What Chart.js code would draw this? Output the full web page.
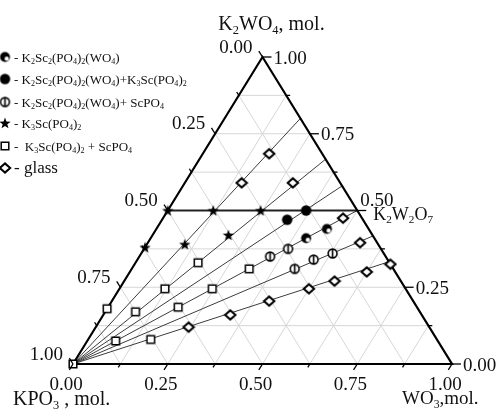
<!DOCTYPE html>
<html>
<head>
<meta charset="utf-8">
<script src="https://cdn.jsdelivr.net/npm/chart.js@4.4.1/dist/chart.umd.min.js"></script>
<style>
  html, body { margin: 0; padding: 0; background: #fff; }
  canvas { display: block; }
</style>
</head>
<body>
<canvas id="chart" width="499" height="409"></canvas>
<script>
(function () {
  "use strict";

  const SERIF = '"Liberation Serif", "Times New Roman", serif';

  // ----- Data: mole fractions (WO3, K2WO4; KPO3 = rest) -----
  const k2sc2WO3 = [0.41, 0.45];
  const k2sc2K2WO4 = [0.41, 0.44];

  const k2sc2K3scWO3 = [0.33, 0.365];
  const k2sc2K3scK2WO4 = [0.47, 0.50];

  const k2sc2ScpoWO3 = [0.345, 0.38, 0.43, 0.465, 0.505];
  const k2sc2ScpoK2WO4 = [0.35, 0.375, 0.31, 0.34, 0.36];

  const k3scWO3 = [0, 0, 0.12, 0.10, 0.245, 0.20];
  const k3scK2WO4 = [0.50, 0.38, 0.50, 0.39, 0.50, 0.42];

  const k3scScpoWO3 = [0, 0, 0.08, 0.12, 0.165, 0.075, 0.185, 0.245, 0.31, 0.165];
  const k3scScpoK2WO4 = [0, 0.18, 0.17, 0.245, 0.33, 0.075, 0.185, 0.245, 0.31, 0.08];

  const glassWO3 = [0.15, 0.175, 0.285, 0.475, 0.56, 0.675, 0.625, 0.555, 0.50, 0.415, 0.335, 0.245];
  const glassK2WO4 = [0.59, 0.685, 0.59, 0.475, 0.395, 0.325, 0.30, 0.27, 0.245, 0.205, 0.16, 0.12];

  // sections from KPO3 corner: K2WO4 share where they meet the K2WO4-WO3 side
  const sectionK2WO4 = [0.8, 0.667, 0.58, 0.5, 0.417, 0.333];
  // join at K2WO4 = 0.5, ending at K2W2O7
  const joinK2WO4 = 0.5;

  const tickValues = [0, 0.25, 0.5, 0.75, 1];
  const tickLabels = ["0.00", "0.25", "0.50", "0.75", "1.00"];
  const minorValues = [0.125, 0.375, 0.625, 0.875];
  const gridValues = [0.125, 0.25, 0.375, 0.5, 0.625, 0.75, 0.875];

  const legendLabels = [
    "- K_2Sc_2(PO_4)_2(WO_4)",
    "- K_2Sc_2(PO_4)_2(WO_4)+K_3Sc(PO_4)_2",
    "- K_2Sc_2(PO_4)_2(WO_4)+ ScPO_4",
    "- K_3Sc(PO_4)_2",
    "-  K_3Sc(PO_4)_2 + ScPO_4",
    "- glass",
  ];
  const legendRowY = [57, 79, 102, 123, 146, 168];

  // ----- helpers -----
  // ternary (WO3 = a, K2WO4 = c) -> cartesian used by the linear scales
  function cart(a, c) { return { x: a + c / 2, y: c }; }
  function pts(wo3, k2wo4) { return wo3.map((a, i) => cart(a, k2wo4[i])); }

  function marker(size, draw) {
    const cv = document.createElement("canvas");
    cv.width = cv.height = size;
    const g = cv.getContext("2d");
    draw(g, size / 2);
    return cv;
  }

  const mkHalf = marker(13, (g, m) => {
    g.fillStyle = "#000";
    g.beginPath(); g.arc(m, m, 5, 0, Math.PI * 2); g.fill();
    g.fillStyle = "#fff";
    g.beginPath(); g.arc(m + 1.7, m + 1.7, 2.1, 0, Math.PI * 2); g.fill();
  });
  const mkFilled = marker(13, (g, m) => {
    g.fillStyle = "#000";
    g.beginPath(); g.arc(m, m, 5.2, 0, Math.PI * 2); g.fill();
  });
  const mkPhi = marker(13, (g, m) => {
    g.fillStyle = "#fff"; g.strokeStyle = "#000"; g.lineWidth = 1.6;
    g.beginPath(); g.arc(m, m, 4.4, 0, Math.PI * 2); g.fill(); g.stroke();
    g.beginPath(); g.moveTo(m, m - 4.4); g.lineTo(m, m + 4.4); g.stroke();
  });
  const mkStar = marker(14, (g, m) => {
    g.fillStyle = "#000";
    g.beginPath();
    for (let i = 0; i < 10; i++) {
      const r = i % 2 ? 2.4 : 6;
      const ang = -Math.PI / 2 + i * Math.PI / 5;
      const x = m + r * Math.cos(ang), y = m + 0.5 + r * Math.sin(ang);
      if (i === 0) g.moveTo(x, y); else g.lineTo(x, y);
    }
    g.closePath(); g.fill();
  });
  const mkSquare = marker(12, (g, m) => {
    g.fillStyle = "#fff"; g.strokeStyle = "#000"; g.lineWidth = 1.5;
    g.beginPath(); g.rect(m - 3.8, m - 3.8, 7.6, 7.6); g.fill(); g.stroke();
  });
  const mkGlass = marker(14, (g, m) => {
    g.fillStyle = "#fff"; g.strokeStyle = "#000"; g.lineWidth = 2;
    g.beginPath();
    g.moveTo(m - 5.2, m); g.lineTo(m, m - 4.6); g.lineTo(m + 5.2, m); g.lineTo(m, m + 4.6);
    g.closePath(); g.fill(); g.stroke();
  });
  const legendMarkers = [mkHalf, mkFilled, mkPhi, mkStar, mkSquare, mkGlass];

  // chemical formula with "_n" subscripts
  function drawChem(ctx, text, x, y, size, align) {
    const parts = [];
    let i = 0;
    while (i < text.length) {
      if (text[i] === "_") {
        let j = i + 1;
        while (j < text.length && /\d/.test(text[j])) j++;
        parts.push({ t: text.slice(i + 1, j), sub: true });
        i = j;
      } else {
        let j = i;
        while (j < text.length && text[j] !== "_") j++;
        parts.push({ t: text.slice(i, j), sub: false });
        i = j;
      }
    }
    const subSize = size * 0.62;
    let w = 0;
    parts.forEach((p) => {
      ctx.font = (p.sub ? subSize : size) + "px " + SERIF;
      p.w = ctx.measureText(p.t).width;
      w += p.w;
    });
    let cx = align === "right" ? x - w : align === "center" ? x - w / 2 : x;
    ctx.textAlign = "left";
    ctx.textBaseline = "alphabetic";
    parts.forEach((p) => {
      ctx.font = (p.sub ? subSize : size) + "px " + SERIF;
      ctx.fillText(p.t, cx, y + (p.sub ? size * 0.22 : 0));
      cx += p.w;
    });
  }

  // ----- frame plugin: grid, ticks, labels, legend -----
  const ternaryFrame = {
    id: "ternaryFrame",
    beforeDatasetsDraw(chart) {
      const { ctx } = chart;
      const xs = chart.scales.x, ys = chart.scales.y;
      const P = (a, c) => [xs.getPixelForValue(a + c / 2), ys.getPixelForValue(c)];
      ctx.save();
      ctx.strokeStyle = "#d6d6d6";
      ctx.lineWidth = 1;
      const seg = (p, q) => { ctx.beginPath(); ctx.moveTo(p[0], p[1]); ctx.lineTo(q[0], q[1]); ctx.stroke(); };
      gridValues.forEach((s) => {
        seg(P(0, s), P(1 - s, s));
        seg(P(s, 0), P(s, 1 - s));
        seg(P(1 - s, 0), P(0, 1 - s));
      });
      ctx.restore();
    },
    afterDatasetsDraw(chart) {
      const { ctx } = chart;
      const xs = chart.scales.x, ys = chart.scales.y;
      const P = (a, c) => [xs.getPixelForValue(a + c / 2), ys.getPixelForValue(c)];
      const dirOf = (dX, dY) => {
        const px = xs.getPixelForValue(dX) - xs.getPixelForValue(0);
        const py = ys.getPixelForValue(dY) - ys.getPixelForValue(0);
        const l = Math.hypot(px, py);
        return [px / l, py / l];
      };
      const dBottom = dirOf(-0.5, -1);
      const dLeft = dirOf(-0.5, 1);
      const dRight = [1, 0];

      ctx.save();
      ctx.strokeStyle = "#000";
      ctx.lineWidth = 1.3;
      const tick = (p, d, len) => {
        ctx.beginPath(); ctx.moveTo(p[0], p[1]);
        ctx.lineTo(p[0] + d[0] * len, p[1] + d[1] * len); ctx.stroke();
      };
      tickValues.forEach((v) => {
        tick(P(v, 0), dBottom, 7);
        tick(P(1 - v, v), dRight, 9);
        tick(P(0, 1 - v), dLeft, 7);
      });
      minorValues.forEach((v) => {
        tick(P(v, 0), dBottom, 4);
        tick(P(1 - v, v), dRight, 4);
        tick(P(0, 1 - v), dLeft, 4);
      });

      ctx.fillStyle = "#111";
      ctx.font = "19px " + SERIF;
      ctx.textBaseline = "alphabetic";
      tickValues.forEach((v, i) => {
        const lab = tickLabels[i];
        // WO3 along the bottom
        const b = P(v, 0);
        ctx.textAlign = "center";
        ctx.fillText(lab, b[0] - 7, b[1] + 26);
        // K2WO4 on the right side
        const r = P(1 - v, v);
        ctx.textAlign = "left";
        if (v === 0.5) ctx.fillText(lab, r[0] + 3, r[1] - 5);
        else ctx.fillText(lab, r[0] + 11, r[1] + 6.5);
        // KPO3 on the left side
        const l = P(0, 1 - v);
        ctx.textAlign = "right";
        ctx.fillText(lab, l[0] - 10, l[1] - 4.5);
      });

      // axis titles and compound label
      ctx.fillStyle = "#111";
      const top = P(0, 1);
      drawChem(ctx, "K_2WO_4, mol.", top[0] + 9, top[1] - 27, 20, "center");
      const bl = P(0, 0);
      drawChem(ctx, "KPO_3 , mol.", bl[0] - 60, bl[1] + 41, 20, "left");
      const br = P(1, 0);
      drawChem(ctx, "WO_3,mol.", br[0] - 50, br[1] + 40, 19, "left");
      const k2w = P(1 - joinK2WO4, joinK2WO4);
      drawChem(ctx, "K_2W_2O_7", k2w[0] + 16, k2w[1] + 9, 18, "left");

      // legend
      legendLabels.forEach((t, i) => {
        const y = legendRowY[i];
        const mk = legendMarkers[i];
        ctx.drawImage(mk, 5 - mk.width / 2, y - mk.height / 2);
        drawChem(ctx, t, 14, y + 4.5, i === 5 ? 17 : 13, "left");
      });
      ctx.restore();
    },
  };

  // ----- datasets -----
  const datasets = [];
  sectionK2WO4.forEach((r) => {
    datasets.push({
      data: [cart(0, 0), cart(1 - r, r)],
      showLine: true, borderColor: "#3c3c3c", borderWidth: 1,
      pointRadius: 0, order: 6, clip: false,
    });
  });
  datasets.push({
    data: [cart(0, joinK2WO4), cart(1 - joinK2WO4, joinK2WO4)],
    showLine: true, borderColor: "#222", borderWidth: 2,
    pointRadius: 0, order: 5, clip: false,
  });
  datasets.push({
    data: [cart(0, 0), cart(1, 0), cart(0, 1), cart(0, 0)],
    showLine: true, borderColor: "#000", borderWidth: 2.2,
    pointRadius: 0, order: 4, clip: false,
  });
  const series = [
    [k2sc2WO3, k2sc2K2WO4, mkHalf],
    [k2sc2K3scWO3, k2sc2K3scK2WO4, mkFilled],
    [k2sc2ScpoWO3, k2sc2ScpoK2WO4, mkPhi],
    [k3scWO3, k3scK2WO4, mkStar],
    [k3scScpoWO3, k3scScpoK2WO4, mkSquare],
    [glassWO3, glassK2WO4, mkGlass],
  ];
  series.forEach(([a, c, mk]) => {
    datasets.push({
      data: pts(a, c), showLine: false,
      pointStyle: mk, pointRadius: 6, order: 0, clip: false,
    });
  });

  new Chart(document.getElementById("chart"), {
    type: "scatter",
    data: { datasets },
    options: {
      responsive: false,
      animation: false,
      layout: { padding: { left: 73, right: 47, top: 57, bottom: 45 } },
      plugins: { legend: { display: false }, tooltip: { enabled: false } },
      scales: {
        x: { type: "linear", min: 0, max: 1, display: false },
        y: { type: "linear", min: 0, max: 1, display: false },
      },
    },
    plugins: [ternaryFrame],
  });
})();
</script>
</body>
</html>
